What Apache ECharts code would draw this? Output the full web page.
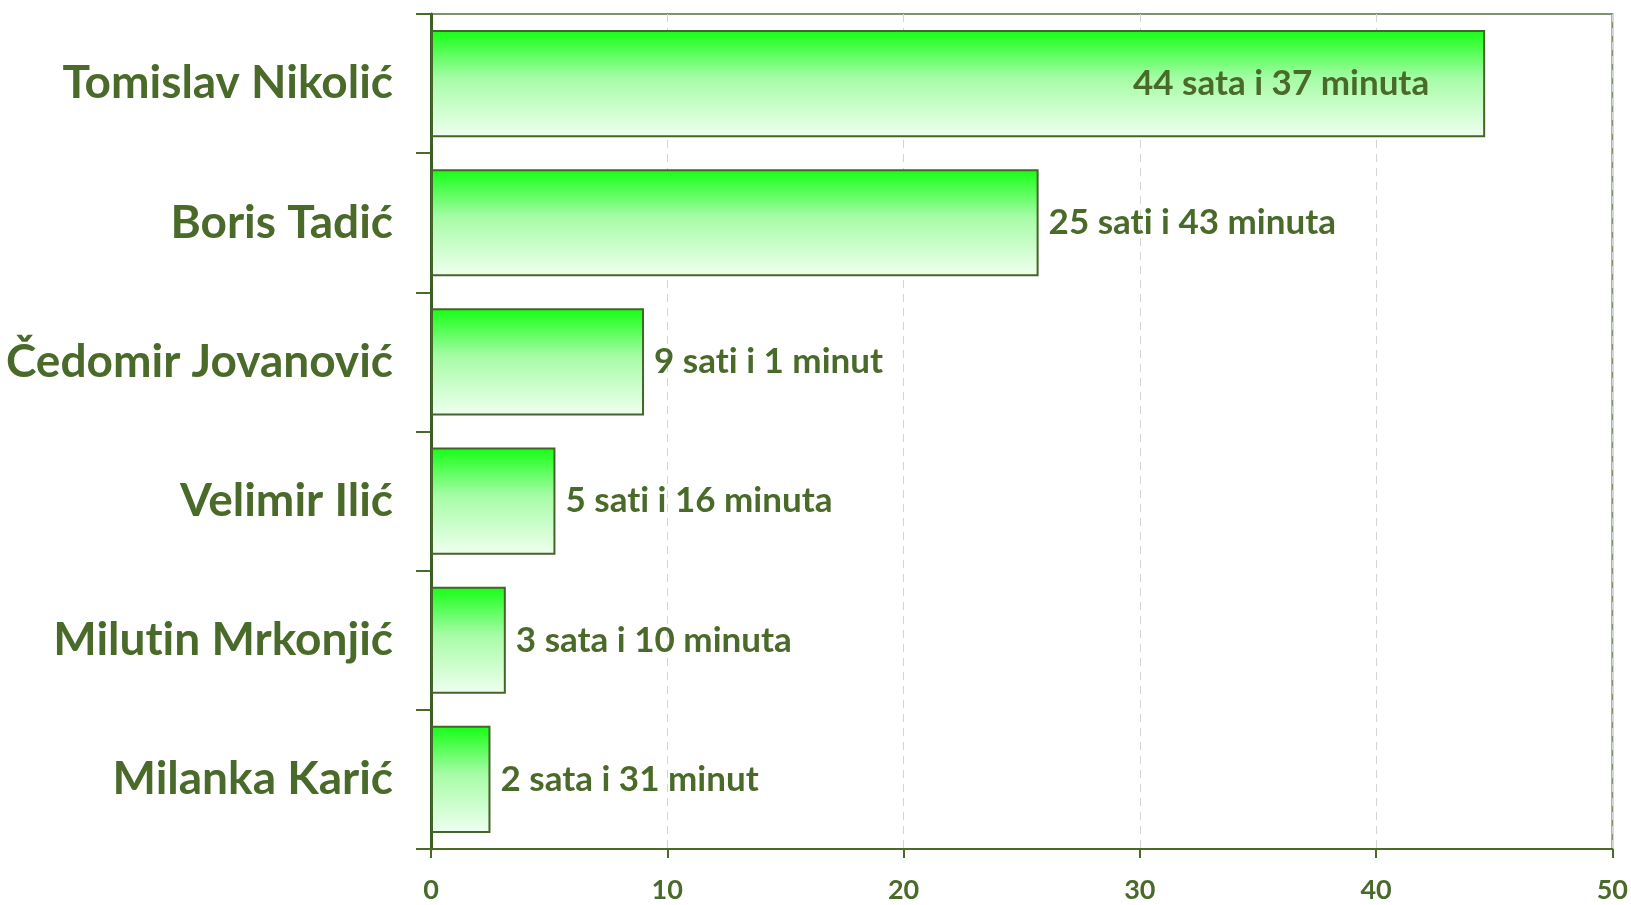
<!DOCTYPE html>
<html>
<head>
<meta charset="utf-8">
<script src="https://cdn.jsdelivr.net/npm/echarts@6/dist/echarts.min.js"></script>
<style>
  html, body { margin: 0; padding: 0; background: #ffffff; }
  #chart { width: 1631px; height: 905px; }
</style>
</head>
<body>
<div id="chart"></div>
<script>
// Speaking time per candidate
const names = ['Tomislav Nikolić', 'Boris Tadić', 'Čedomir Jovanović', 'Velimir Ilić', 'Milutin Mrkonjić', 'Milanka Karić'];
const hours = [44, 25, 9, 5, 3, 2];
const minutes = [37, 43, 1, 16, 10, 31];
const timeLabels = ['44 sata i 37 minuta', '25 sati i 43 minuta', '9 sati i 1 minut', '5 sati i 16 minuta', '3 sata i 10 minuta', '2 sata i 31 minut'];
const xTicks = [0, 10, 20, 30, 40, 50];

const green = '#4a6a2a';
const font = 'Lato, "Open Sans", sans-serif';

// keep "t" and "i" as separate glyphs (no ligature)
const noLig = s => s.replace(/ti/g, 't\u200Ci');

const values = hours.map((h, i) => +(h + minutes[i] / 60).toFixed(3));

const barFill = new echarts.graphic.LinearGradient(0, 0, 0, 1, [
  { offset: 0, color: '#14ff14' },
  { offset: 0.45, color: '#a6fca6' },
  { offset: 1, color: '#f0fff0' }
]);

const data = values.map((v, i) => ({
  value: v,
  label: i === 0
    ? { position: 'insideRight', distance: 56 }
    : { position: 'right', distance: 10 }
}));

const chart = echarts.init(document.getElementById('chart'), null, { renderer: 'canvas' });
chart.setOption({
  animation: false,
  backgroundColor: '#ffffff',
  grid: {
    left: 431, right: 18, top: 14, bottom: 56,
    show: true, borderColor: '#7d9270', borderWidth: 2, backgroundColor: 'transparent'
  },
  xAxis: {
    type: 'value',
    min: xTicks[0],
    max: xTicks[xTicks.length - 1],
    interval: 10,
    axisLine: { show: true, lineStyle: { color: green, width: 2 } },
    axisTick: { show: true, length: 9, lineStyle: { color: green, width: 2 } },
    axisLabel: {
      color: green, fontFamily: font, fontWeight: 'bold', fontSize: 27, margin: 28
    },
    splitLine: { show: true, lineStyle: { color: '#d4d4d4', type: [8, 6], width: 1 } }
  },
  yAxis: {
    type: 'category',
    data: names,
    inverse: true,
    axisLine: { show: true, lineStyle: { color: '#3f5f22', width: 3 } },
    axisTick: { show: true, length: 15, lineStyle: { color: green, width: 2 } },
    axisLabel: {
      color: green, fontFamily: font, fontWeight: 'bold', fontSize: 46, margin: 38,
      formatter: v => noLig(v)
    },
    splitLine: { show: false }
  },
  series: [{
    type: 'bar',
    data: data,
    barCategoryGap: '23%',
    itemStyle: { color: barFill, borderColor: '#44642a', borderWidth: 2 },
    label: {
      show: true,
      color: green,
      fontFamily: font,
      fontWeight: 'bold',
      fontSize: 35,
      formatter: p => noLig(timeLabels[p.dataIndex])
    }
  }]
});
</script>
</body>
</html>
